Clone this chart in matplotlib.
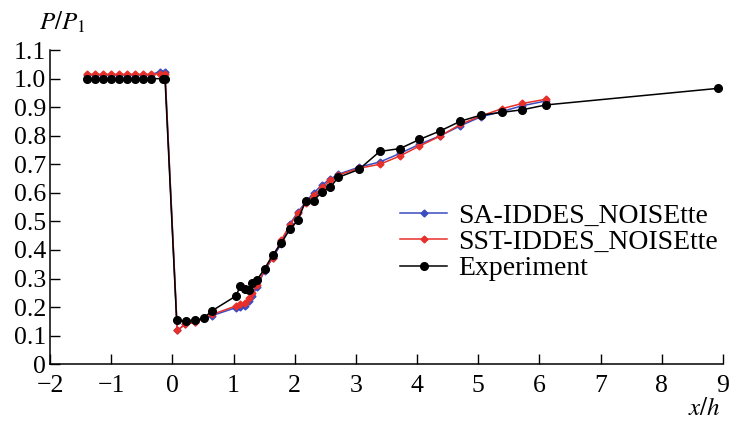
import numpy as np
import matplotlib
matplotlib.use('Agg')
import matplotlib.pyplot as plt

plt.rcParams['font.family'] = ['Liberation Serif', 'DejaVu Serif']
plt.rcParams['mathtext.fontset'] = 'stix'

# 실험 데이터 (Experiment)
x_exp = [-1.39, -1.26, -1.13, -1.0, -0.87, -0.74, -0.61, -0.48, -0.35, -0.15, -0.12,
         0.07, 0.22, 0.37, 0.51, 0.65, 1.04, 1.11, 1.18, 1.25, 1.31, 1.38, 1.51, 1.64,
         1.78, 1.92, 2.05, 2.18, 2.31, 2.45, 2.58, 2.71, 3.05, 3.39, 3.72, 4.04, 4.38,
         4.71, 5.04, 5.39, 5.72, 6.11, 8.92]
y_exp = [1.0, 1.0, 1.0, 1.0, 1.0, 1.0, 1.0, 1.0, 1.0, 1.0, 1.0,
         0.153, 0.152, 0.154, 0.161, 0.187, 0.239, 0.273, 0.265, 0.26, 0.283, 0.294, 0.335, 0.382,
         0.424, 0.472, 0.504, 0.571, 0.573, 0.604, 0.619, 0.654, 0.682, 0.745, 0.755, 0.787, 0.817,
         0.851, 0.872, 0.882, 0.891, 0.908, 0.966]

# 계산 결과 (SA / SST)
x_sim = [-1.39, -1.26, -1.13, -1.0, -0.87, -0.74, -0.61, -0.48, -0.35, -0.2, -0.12,
         0.08, 0.21, 0.37, 0.51, 0.65, 1.04, 1.11, 1.18, 1.25, 1.31, 1.38, 1.51, 1.64,
         1.78, 1.92, 2.05, 2.18, 2.31, 2.45, 2.58, 2.71, 3.05, 3.39, 3.72, 4.04, 4.38,
         4.71, 5.04, 5.39, 5.72, 6.11]
y_sa = [1.014, 1.014, 1.014, 1.014, 1.014, 1.014, 1.014, 1.014, 1.014, 1.025, 1.025,
        0.118, 0.14, 0.146, 0.16, 0.17, 0.198, 0.2, 0.205, 0.22, 0.24, 0.27, 0.328, 0.372,
        0.422, 0.49, 0.532, 0.568, 0.6, 0.628, 0.648, 0.665, 0.69, 0.708, 0.738, 0.77, 0.80,
        0.835, 0.866, 0.885, 0.905, 0.922]
y_sst = [1.015, 1.015, 1.015, 1.015, 1.015, 1.015, 1.015, 1.015, 1.015, 1.017, 1.017,
         0.118, 0.14, 0.146, 0.16, 0.174, 0.204, 0.21, 0.213, 0.23, 0.25, 0.277, 0.33, 0.373,
         0.434, 0.487, 0.528, 0.563, 0.592, 0.619, 0.644, 0.662, 0.686, 0.70, 0.729, 0.764, 0.799,
         0.84, 0.869, 0.895, 0.913, 0.928]

x_ticks = [-2, -1, 0, 1, 2, 3, 4, 5, 6, 7, 8, 9]
y_ticks = [0, 0.1, 0.2, 0.3, 0.4, 0.5, 0.6, 0.7, 0.8, 0.9, 1.0, 1.1]
y_ticklabels = ['0', '0.1', '0.2', '0.3', '0.4', '0.5', '0.6', '0.7', '0.8', '0.9', '1.0', '1.1']

fig = plt.figure(figsize=(7.29, 4.21), dpi=100)
ax = fig.add_axes([0.0686, 0.135, 0.923, 0.746])

ax.plot(x_sim, y_sa, color='#3a4cc0', marker='D', markersize=3.5, linewidth=1.1,
        label='SA-IDDES_NOISEtte')
ax.plot(x_sim, y_sst, color='#e8302a', marker='D', markersize=3.5, linewidth=1.1,
        label='SST-IDDES_NOISEtte')
ax.plot(x_exp, y_exp, color='black', marker='o', markersize=5.5, linewidth=1.1,
        label='Experiment')

ax.set_xlim(-2, 9)
ax.set_ylim(0, 1.1)
ax.set_xticks(x_ticks)
ax.set_xticklabels(['\u2212' + str(-t) if t < 0 else str(t) for t in x_ticks])
ax.set_yticks(y_ticks)
ax.set_yticklabels(y_ticklabels)
ax.tick_params(direction='in', length=7, width=1, labelsize=18.5)
ax.tick_params(axis='x', pad=8)
ax.tick_params(axis='y', pad=3)

ax.spines['top'].set_visible(False)
ax.spines['right'].set_visible(False)
for s in ['left', 'bottom']:
    ax.spines[s].set_linewidth(1.1)

fig.text(0.054, 0.93, '$P/P_1$', fontsize=18)
fig.text(0.944, 0.014, '$x/h$', fontsize=18)

ax.legend(loc='upper left', bbox_to_anchor=(0.52, 0.512), frameon=False, fontsize=20,
          handlelength=1.7, handletextpad=0.4, labelspacing=0.03, borderaxespad=0,
          borderpad=0)

fig.savefig('out.png', dpi=100)
